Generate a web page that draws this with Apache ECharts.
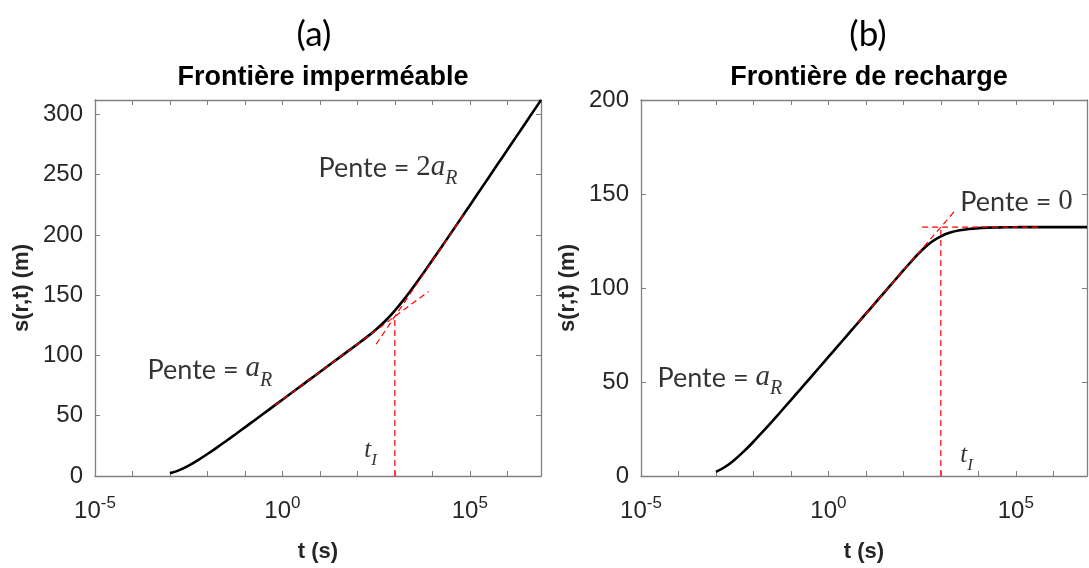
<!DOCTYPE html>
<html>
<head>
<meta charset="utf-8">
<script src="https://cdn.jsdelivr.net/npm/echarts@6/dist/echarts.min.js"></script>
<style>
  html, body { margin: 0; padding: 0; background: #fff; }
  #chart { width: 1089px; height: 568px; }
</style>
</head>
<body>
<div id="chart"></div>
<script>
// Time samples, as powers of ten (t in s), shared by both drawdown curves
const logT = [-3, -2.75, -2.5, -2.25, -2, -1.75, -1.5, -1.25, -1, -0.75, -0.5, -0.25,
  0, 0.25, 0.5, 0.75, 1, 1.25, 1.5, 1.75, 2, 2.25, 2.5, 2.75, 3, 3.25, 3.5, 3.75,
  4, 4.25, 4.5, 4.75, 5, 5.25, 5.5, 5.75, 6, 6.25, 6.5, 6.75, 6.9];

// (a) drawdown with an impermeable boundary (m)
const sImpermeable = [2.19, 4.91, 8.67, 13.20, 18.23, 23.57, 29.08, 34.70, 40.38, 46.09, 51.83, 57.57,
  63.32, 69.07, 74.82, 80.58, 86.33, 92.09, 97.84, 103.60, 109.36, 115.22, 121.54, 128.82, 137.29, 146.81, 157.10, 167.88,
  178.98, 190.25, 201.62, 213.06, 224.53, 236.02, 247.52, 259.02, 270.53, 282.04, 293.55, 305.06, 311.97];

// (b) drawdown with a recharge boundary (m)
const sRecharge = [2.19, 4.91, 8.67, 13.20, 18.23, 23.57, 29.08, 34.70, 40.38, 46.09, 51.83, 57.57,
  63.32, 69.07, 74.82, 80.58, 86.33, 92.09, 97.84, 103.60, 109.35, 115.01, 120.20, 124.43, 127.48, 129.47, 130.70, 131.42,
  131.85, 132.09, 132.22, 132.30, 132.34, 132.37, 132.38, 132.39, 132.39, 132.40, 132.40, 132.40, 132.40];

// Straight-line asymptotes (log10 t, s) and the intersection time t_I
const tangentA_a  = [[-0.2, 58.70], [3.9, 153.11]];   // slope a_R
const tangent2A_a = [[2.5, 109.34], [4.85, 217.56]];  // slope 2 a_R
const tI_a        = [[3, 0], [3, 132.4]];
const tangentA_b  = [[0.8, 81.73], [3.35, 140.45]];   // slope a_R
const plateau_b   = [[2.5, 132.4], [5.7, 132.4]];     // slope 0
const tI_b        = [[3, 0], [3, 132.4]];

// Axis ticks
const decadeExps = [-5, -4, -3, -2, -1, 0, 1, 2, 3, 4, 5, 6];
const labelExps = [-5, 0, 5];
const yTicksA = [0, 50, 100, 150, 200, 250, 300];
const yTicksB = [0, 50, 100, 150, 200];

const xMin = 1e-5, xMax = Math.pow(10, 6.9);
const yMaxA = 312, yMaxB = 200;

const pow10 = e => Math.pow(10, e);
const toPts = (exps, vals) => exps.map((e, i) => [pow10(e), vals[i]]);
const segPts = seg => seg.map(p => [pow10(p[0]), p[1]]);

const AXIS_GREY = '#808080';
const TEXT = '#262626';
const SANS = 'Liberation Sans';

const tickLabelRich = {
  b: { fontFamily: SANS, fontSize: 24, color: TEXT, verticalAlign: 'bottom' },
  s: { fontFamily: SANS, fontSize: 17, color: TEXT, verticalAlign: 'bottom', padding: [0, 0, 11, 0] }
};

function xAxisFor(gridIndex, top) {
  return {
    type: 'log', logBase: 10, gridIndex, position: top ? 'top' : 'bottom',
    min: xMin, max: xMax,
    axisLine: { show: true, onZero: false, lineStyle: { color: AXIS_GREY, width: 1.3 } },
    axisTick: { show: true, inside: true, length: 5, customValues: decadeExps.map(pow10),
      lineStyle: { color: AXIS_GREY, width: 1 } },
    axisLabel: top ? { show: false } : {
      show: true, customValues: labelExps.map(pow10), margin: 19,
      formatter: v => '{b|10}{s|' + Math.round(Math.log10(v)) + '}',
      rich: tickLabelRich
    },
    splitLine: { show: false },
    name: top ? '' : 't (s)', nameLocation: 'middle', nameGap: 65,
    nameTextStyle: { fontFamily: SANS, fontWeight: 'bold', fontSize: 22, color: TEXT }
  };
}

function yAxisFor(gridIndex, right, yMax, ticks) {
  return {
    type: 'value', gridIndex, position: right ? 'right' : 'left',
    min: 0, max: yMax,
    axisLine: { show: true, onZero: false, lineStyle: { color: AXIS_GREY, width: 1.3 } },
    axisTick: { show: true, inside: true, length: 5, customValues: ticks,
      lineStyle: { color: AXIS_GREY, width: 1 } },
    axisLabel: right ? { show: false } : {
      show: true, customValues: ticks, margin: 12,
      fontFamily: SANS, fontSize: 24, color: TEXT
    },
    splitLine: { show: false },
    name: right ? '' : 's(r,t) (m)', nameLocation: 'middle', nameGap: 62,
    nameTextStyle: { fontFamily: SANS, fontWeight: 'bold', fontSize: 22, color: TEXT }
  };
}

const curveStyle = { color: '#000', width: 2.6 };
const dashStyle = { color: '#ff0000', width: 1.2, type: [6, 4] };

function curve(xi, yi, pts) {
  return { type: 'line', xAxisIndex: xi, yAxisIndex: yi, data: pts, showSymbol: false,
    smooth: 0.35, lineStyle: curveStyle, z: 2, silent: true };
}
function dashed(xi, yi, seg) {
  return { type: 'line', xAxisIndex: xi, yAxisIndex: yi, data: segPts(seg), showSymbol: false,
    lineStyle: dashStyle, z: 3, silent: true };
}

const noteRich = {
  p: { fontFamily: 'Lato', fontSize: 27, color: '#000', verticalAlign: 'bottom', padding: [0, 0, 7, 0] },
  n: { fontFamily: 'Liberation Serif', fontSize: 29, color: '#000', verticalAlign: 'bottom', padding: [0, 0, 7, 0] },
  m: { fontFamily: 'Liberation Serif', fontStyle: 'italic', fontSize: 29, color: '#000', verticalAlign: 'bottom', padding: [0, 0, 7, 0] },
  r: { fontFamily: 'Liberation Serif', fontStyle: 'italic', fontSize: 20, color: '#000', verticalAlign: 'bottom' },
  t: { fontFamily: 'Liberation Serif', fontStyle: 'italic', fontSize: 25, color: '#000', verticalAlign: 'bottom', padding: [0, 0, 6, 0] },
  i: { fontFamily: 'Liberation Serif', fontStyle: 'italic', fontSize: 17, color: '#000', verticalAlign: 'bottom' }
};

function notes(xi, yi, items) {
  return {
    type: 'scatter', xAxisIndex: xi, yAxisIndex: yi, symbolSize: 1,
    itemStyle: { color: 'rgba(0,0,0,0)' }, silent: true, z: 4,
    label: { show: true, position: 'right', distance: 0, rich: noteRich },
    data: items.map(it => ({ value: it.at, label: { formatter: it.text } }))
  };
}

const option = {
  animation: false,
  backgroundColor: '#fff',
  title: [
    { text: '(a)', left: 309, top: 12, textAlign: 'center',
      textStyle: { fontFamily: 'Lato', fontWeight: 'normal', fontSize: 35, color: '#000' } },
    { text: '(b)', left: 863, top: 12, textAlign: 'center',
      textStyle: { fontFamily: 'Lato', fontWeight: 'normal', fontSize: 35, color: '#000' } },
    { text: 'Frontière imperméable', left: 318, top: 59, textAlign: 'center',
      textStyle: { fontFamily: SANS, fontWeight: 'bold', fontSize: 27, color: '#000' } },
    { text: 'Frontière de recharge', left: 864, top: 59, textAlign: 'center',
      textStyle: { fontFamily: SANS, fontWeight: 'bold', fontSize: 27, color: '#000' } }
  ],
  grid: [
    { left: 95, top: 100, width: 446, height: 382 },
    { left: 641, top: 100, width: 446, height: 382 }
  ],
  xAxis: [xAxisFor(0, false), xAxisFor(0, true), xAxisFor(1, false), xAxisFor(1, true)],
  yAxis: [yAxisFor(0, false, yMaxA, yTicksA), yAxisFor(0, true, yMaxA, yTicksA),
          yAxisFor(1, false, yMaxB, yTicksB), yAxisFor(1, true, yMaxB, yTicksB)],
  series: [
    curve(0, 0, toPts(logT, sImpermeable)),
    dashed(0, 0, tangentA_a),
    dashed(0, 0, tangent2A_a),
    dashed(0, 0, tI_a),
    notes(0, 0, [
      { at: [8.85, 253.4], text: '{p|Pente = }{n|2}{m|a}{r|R}' },
      { at: [2.44e-4, 86], text: '{p|Pente = }{m|a}{r|R}' },
      { at: [149, 18.8], text: '{t|t}{i|I}' }
    ]),
    curve(2, 2, toPts(logT, sRecharge)),
    dashed(2, 2, tangentA_b),
    dashed(2, 2, plateau_b),
    dashed(2, 2, tI_b),
    notes(2, 2, [
      { at: [3214, 144], text: '{p|Pente = }{n|0}' },
      { at: [2.67e-5, 50.5], text: '{p|Pente = }{m|a}{r|R}' },
      { at: [3214, 9.4], text: '{t|t}{i|I}' }
    ])
  ]
};

const chart = echarts.init(document.getElementById('chart'), null, { renderer: 'canvas' });
chart.setOption(option);
</script>
</body>
</html>
